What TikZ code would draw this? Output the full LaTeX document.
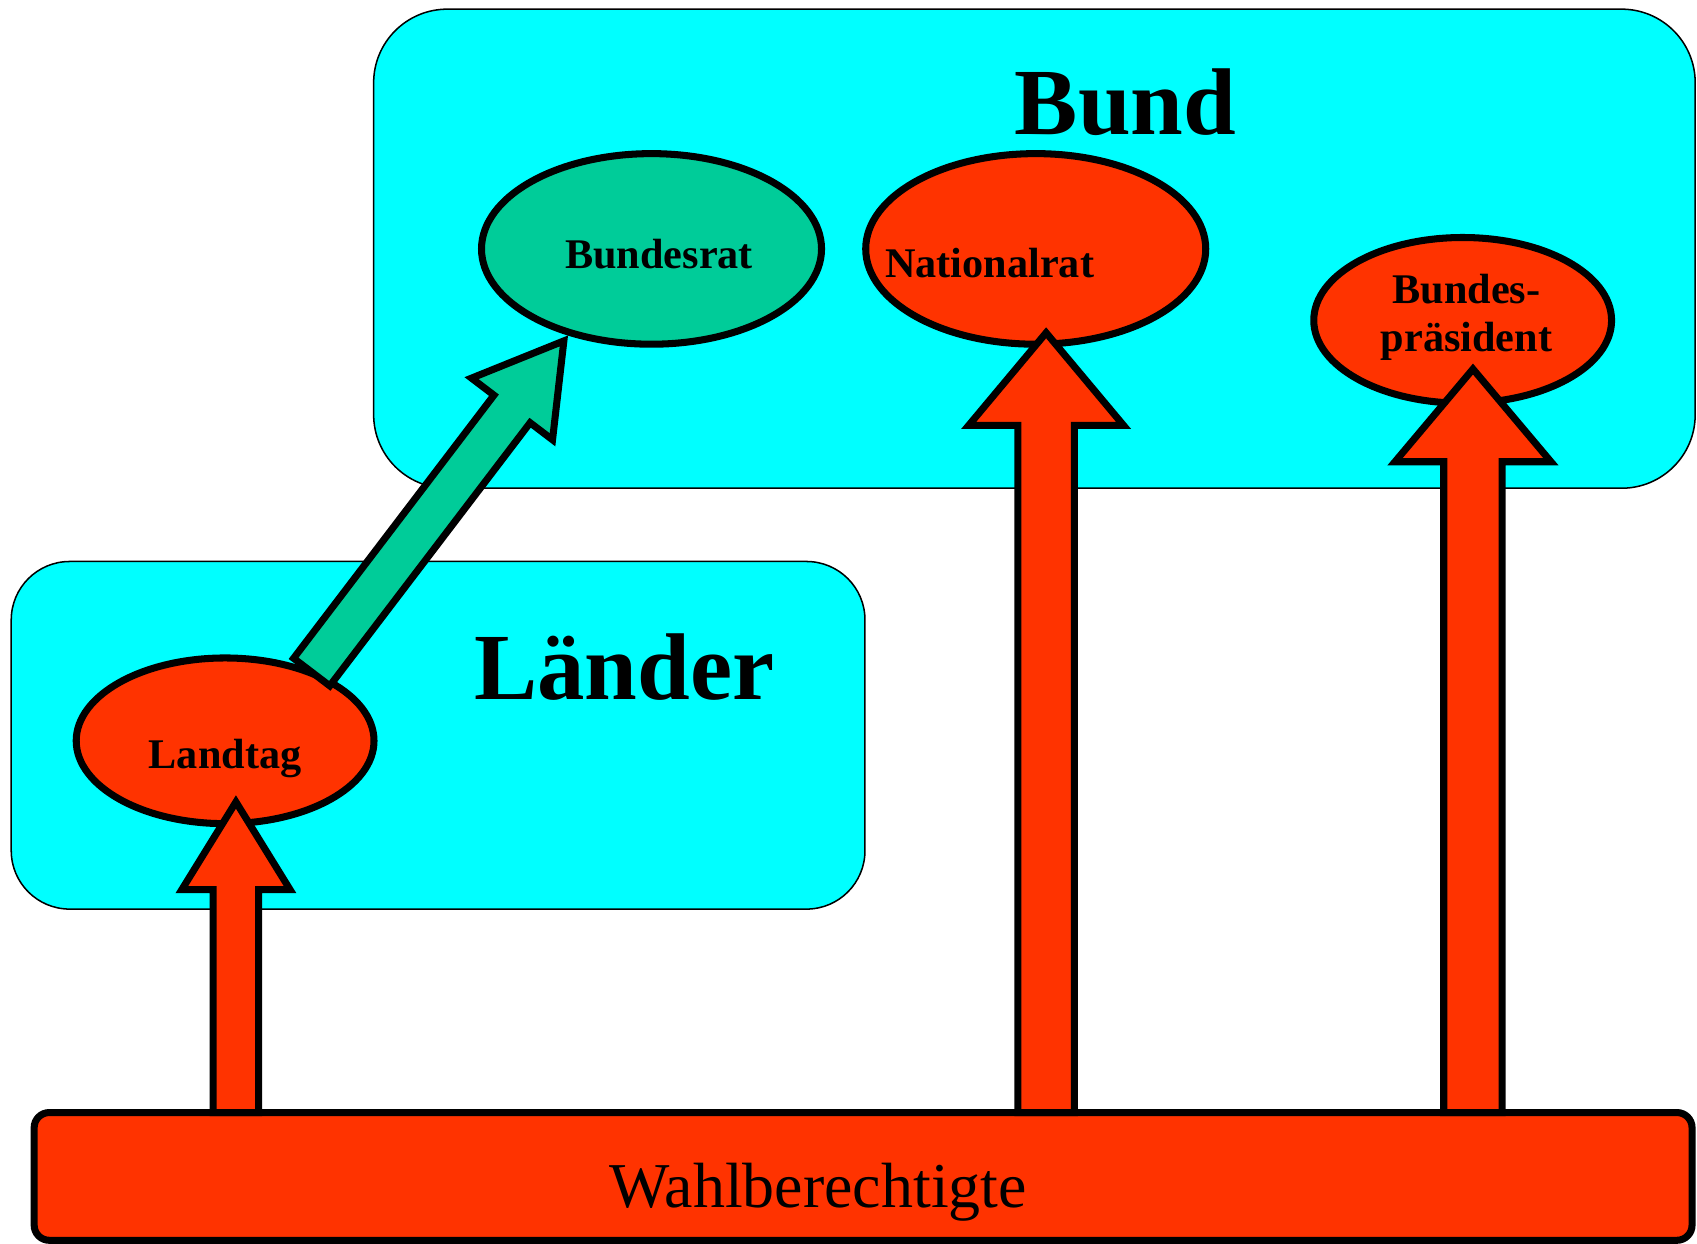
\documentclass[tikz,border=0pt]{standalone}
\usepackage{fontspec}
\setmainfont{Liberation Serif}
\usetikzlibrary{shapes.geometric,calc}
\definecolor{landcyan}{RGB}{0,255,255}
\definecolor{wahlrot}{RGB}{255,51,0}
\definecolor{ratgruen}{RGB}{0,204,153}
\newcommand{\blockpfeil}[6][]{%
	\coordinate (bp-h) at ($(#3)!#6!(#2)$);
	\draw[#1] ($(#2)!#4!90:(#3)$) -- ($(bp-h)!#4!90:(#3)$) -- ($(bp-h)!#5!90:(#3)$) -- (#3)
		-- ($(bp-h)!#5!-90:(#3)$) -- ($(bp-h)!#4!-90:(#3)$) -- ($(#2)!#4!-90:(#3)$) -- cycle;}
\begin{document}
\begin{tikzpicture}[x=0.01cm,y=-0.01cm,line join=miter,
	ebene/.style={draw,line width=0.4pt,fill=landcyan,rounded corners=#1,inner sep=0,outer sep=0},
	organ/.style={draw,ellipse,line width=1.85pt,inner sep=0,outer sep=0},
	pfeil/.style={draw,fill=wahlrot,line width=1.85pt},
	schrift/.style={inner sep=0,anchor=base,font=\bfseries\fontsize{11.1}{12.5}\selectfont},
	titel/.style={inner sep=0,anchor=base,font=\bfseries\fontsize{24.9}{28}\selectfont}]
	\useasboundingbox (0,0) rectangle (1568,1149);
	\begin{scope}
		\path (955.8, 229.8) node [ebene=0.68cm,minimum width=12.204cm,minimum height=4.424cm] (bund)   {};
		\path (404.8, 679.4) node [ebene=0.54cm,minimum width=7.884cm,minimum height=3.21cm]   (laender) {};
		\path (797.5,1087  ) node [ebene=0.14cm,fill=wahlrot,line width=1.85pt,minimum width=15.31cm,minimum height=1.18cm] (wahl) {};
		\path (1040 , 124.7) node [titel] (bundtxt)    {Bund};
		\path (577  , 646  ) node [titel] (laendertxt) {Länder};
		\path (756  ,1116  ) node [inner sep=0,anchor=base,font=\fontsize{16.8}{19}\selectfont] (wahltxt) {Wahlberechtigte};

		\path (602  , 230  ) node [organ,fill=ratgruen,minimum width=3.14cm,minimum height=1.76cm] (br) {};
		\path (957  , 230  ) node [organ,fill=wahlrot, minimum width=3.14cm,minimum height=1.76cm] (nr) {};
		\path (1351.5,296  ) node [organ,fill=wahlrot, minimum width=2.75cm,minimum height=1.53cm] (bp) {};
		\path (208  , 684.5) node [organ,fill=wahlrot, minimum width=2.75cm,minimum height=1.53cm] (lt) {};
		\path (609  , 248  ) node [schrift] (brtxt) {Bundesrat};
		\path (914.5, 256  ) node [schrift] (nrtxt) {Nationalrat};
		\path (1355 , 293  ) node [schrift,anchor=center,align=center] (bptxt) {Bundes-\\präsident};
		\path (208  , 710  ) node [schrift] (lttxt) {Landtag};

		\coordinate (lt-spitze) at (218  ,741  );
		\coordinate (nr-spitze) at (966.6,307.5);
		\coordinate (bp-spitze) at (1361 ,341  );
		\coordinate (br-spitze) at (521  ,315  );
		\coordinate (lt-ausgang) at (288,621);

		\blockpfeil[pfeil,fill=ratgruen]{lt-ausgang}{br-spitze}{0.21cm}{0.47cm}{0.79cm}
		\blockpfeil[pfeil]{lt-spitze |- wahl.north}{lt-spitze}{0.21cm}{0.5cm}{0.81cm}
		\blockpfeil[pfeil]{nr-spitze |- wahl.north}{nr-spitze}{0.26cm}{0.715cm}{0.855cm}
		\blockpfeil[pfeil]{bp-spitze |- wahl.north}{bp-spitze}{0.27cm}{0.72cm}{0.856cm}
	\end{scope}
\end{tikzpicture}
\end{document}
